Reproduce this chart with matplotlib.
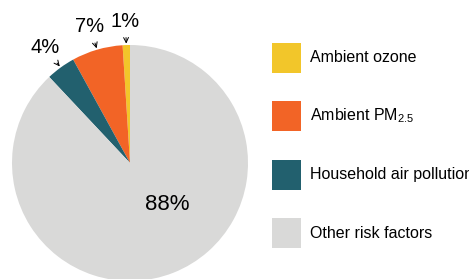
import numpy as np
import matplotlib.pyplot as plt
from matplotlib.patches import Rectangle

plt.rcParams['font.family'] = ['Liberation Sans', 'DejaVu Sans']
plt.rcParams['mathtext.default'] = 'regular'

# data
labels = ['Ambient ozone', 'Ambient PM$_{2.5}$', 'Household air pollution', 'Other risk factors']
shares = [1, 7, 4, 88]
colors = ['#F2C62A', '#F26426', '#22606E', '#D9D9D8']

W, H = 469, 279
fig = plt.figure(figsize=(W / 100, H / 100), dpi=100)
ax = fig.add_axes([0, 0, 1, 1])

cx, cy, R = 130, H - 163, 118
wedges, _ = ax.pie(shares, colors=colors, startangle=90, counterclock=True,
                   center=(cx, cy), radius=R, frame=True,
                   wedgeprops=dict(linewidth=0))
ax.set_xlim(0, W)
ax.set_ylim(0, H)
ax.set_aspect('equal')
ax.axis('off')

# outside labels for the small slices
text_r = [1.22, 1.22, 1.23]
for i in range(3):
    w = wedges[i]
    mid = np.deg2rad((w.theta1 + w.theta2) / 2)
    tip = (cx + R * np.cos(mid), cy + R * np.sin(mid))
    tx = (cx + R * text_r[i] * np.cos(mid), cy + R * text_r[i] * np.sin(mid) - 7.5)
    ax.annotate('%d%%' % shares[i], xy=tip, xytext=tx, ha='center', va='baseline',
                fontsize=14.5,
                arrowprops=dict(arrowstyle='->,head_length=0.25,head_width=0.12',
                                lw=0.7, color='black', shrinkA=3, shrinkB=1))

ax.text(167.5, H - 209.5, '%d%%' % shares[3], ha='center', va='baseline', fontsize=16)

# legend
for i, (lab, col) in enumerate(zip(labels, colors)):
    yc = H - (57.5 + 58.5 * i)
    ax.add_patch(Rectangle((272, yc - 15), 29, 30, facecolor=col, edgecolor='none'))
    ax.text(310, yc, lab, ha='left', va='center', fontsize=11.5)

fig.savefig('out.png', dpi=100)
